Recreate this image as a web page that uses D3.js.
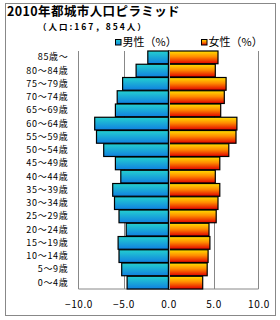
<!DOCTYPE html>
<html>
<head>
<meta charset="utf-8">
<script src="https://cdn.jsdelivr.net/npm/d3@7"></script>
<style>
  body { margin: 0; background: #fff; }
  svg { display: block; font-family: "Noto Sans CJK JP", sans-serif; }
</style>
</head>
<body>
<div id="chart"></div>
<script>
const AGE_LIST = ["85歳～", "80～84歳", "75～79歳", "70～74歳", "65～69歳", "60～64歳",
  "55～59歳", "50～54歳", "45～49歳", "40～44歳", "35～39歳", "30～34歳",
  "25～29歳", "20～24歳", "15～19歳", "10～14歳", "5～9歳", "0～4歳"];
const MALE = [2.3, 3.6, 5.1, 5.7, 5.9, 8.2, 8.0, 7.2, 5.9, 5.3, 6.2, 6.0, 5.5, 4.7, 5.6, 5.5, 5.2, 4.6];
const FEMALE = [5.5, 5.2, 6.4, 6.2, 5.8, 7.6, 7.5, 6.7, 5.7, 5.2, 5.7, 5.5, 5.3, 4.5, 4.6, 4.4, 4.3, 3.8];
const X_TICKS = [-10, -5, 0, 5, 10];

const W = 280, H = 320;
const plot = { left: 78.5, right: 258.5, top: 51, bottom: 289 };

const svg = d3.select("#chart").append("svg")
  .attr("width", W).attr("height", H);

// -------------------- GRADIENTS --------------------
const defs = svg.append("defs");
const gMale = defs.append("linearGradient").attr("id", "gMale")
  .attr("x1", 0).attr("y1", 0).attr("x2", 0).attr("y2", 1);
gMale.append("stop").attr("offset", "0%").attr("stop-color", "#24d0d0");
gMale.append("stop").attr("offset", "100%").attr("stop-color", "#1080e0");
const gFemale = defs.append("linearGradient").attr("id", "gFemale")
  .attr("x1", 0).attr("y1", 0).attr("x2", 0).attr("y2", 1);
gFemale.append("stop").attr("offset", "0%").attr("stop-color", "#ffe000");
gFemale.append("stop").attr("offset", "45%").attr("stop-color", "#ff8c00");
gFemale.append("stop").attr("offset", "100%").attr("stop-color", "#e00000");

// outer frame
svg.append("rect")
  .attr("x", 5.5).attr("y", 3.5).attr("width", 270).attr("height", 312)
  .attr("fill", "#fff").attr("stroke", "#888").attr("stroke-width", 1);

// -------------------- TITLE & LEGEND --------------------
svg.append("text").attr("x", 7).attr("y", 16)
  .style("font-size", "12.5px").style("font-weight", "bold").style("fill", "#000")
  .style("letter-spacing", "0.4px")
  .text("2010年都城市人口ピラミッド");
svg.append("text").attr("x", 38).attr("y", 30)
  .style("font-size", "8.5px").style("font-weight", "bold").style("fill", "#000")
  .style("letter-spacing", "2px")
  .text("（人口:167，854人）");

const legend = [
  { x: 115, fill: "url(#gMale)", label: "男性（%）" },
  { x: 201, fill: "url(#gFemale)", label: "女性（%）" }
];
legend.forEach(l => {
  svg.append("rect").attr("x", l.x + 0.5).attr("y", 39.5).attr("width", 5.5).attr("height", 5.5)
    .attr("fill", l.fill).attr("stroke", "#000").attr("stroke-width", 1);
  svg.append("text").attr("x", l.x + 7.5).attr("y", 46)
    .style("font-size", "11px").style("fill", "#000").text(l.label);
});

// -------------------- SCALES --------------------
const x = d3.scaleLinear().domain([-10, 10]).range([plot.left, plot.right]);
const y = d3.scaleBand().domain(AGE_LIST).range([plot.top, plot.bottom]).paddingInner(0.04);

// gridlines
svg.append("g").selectAll("line")
  .data(X_TICKS.filter(t => t !== 0 && Math.abs(t) !== 10))
  .join("line")
  .attr("x1", d => Math.round(x(d)) + 0.5).attr("x2", d => Math.round(x(d)) + 0.5)
  .attr("y1", plot.top).attr("y2", plot.bottom)
  .attr("stroke", "#888").attr("stroke-width", 1);

// plot border (left, right, bottom)
svg.append("path")
  .attr("d", `M${plot.left},${plot.top}V${plot.bottom}H${plot.right}V${plot.top}`)
  .attr("fill", "none").attr("stroke", "#888").attr("stroke-width", 1);

// -------------------- BARS --------------------
const rows = AGE_LIST.map((age, i) => ({ age, male: MALE[i], female: FEMALE[i] }));

svg.append("g").selectAll("rect")
  .data(rows).join("rect")
  .attr("x", d => x(-d.male))
  .attr("y", d => y(d.age))
  .attr("width", d => x(0) - x(-d.male))
  .attr("height", y.bandwidth())
  .attr("fill", "url(#gMale)")
  .attr("stroke", "#000").attr("stroke-width", 1.2);

svg.append("g").selectAll("rect")
  .data(rows).join("rect")
  .attr("x", x(0))
  .attr("y", d => y(d.age))
  .attr("width", d => x(d.female) - x(0))
  .attr("height", y.bandwidth())
  .attr("fill", "url(#gFemale)")
  .attr("stroke", "#000").attr("stroke-width", 1.2);

// zero line
svg.append("line")
  .attr("x1", Math.round(x(0)) + 0.5).attr("x2", Math.round(x(0)) + 0.5)
  .attr("y1", plot.top).attr("y2", plot.bottom)
  .attr("stroke", "#999").attr("stroke-width", 1);

// -------------------- AXES --------------------
const yAxis = svg.append("g")
  .attr("transform", `translate(${plot.left - 10}, 0)`)
  .call(d3.axisLeft(y).tickSize(0).tickPadding(0));
yAxis.select(".domain").remove();
yAxis.selectAll("text")
  .style("font-size", "9px").style("fill", "#000")
  .style("letter-spacing", "0.7px")
  .style("font-family", "'Noto Sans CJK JP', sans-serif");

const xAxis = svg.append("g")
  .attr("transform", `translate(0, ${plot.bottom + 12})`)
  .call(d3.axisBottom(x).tickValues(X_TICKS).tickSize(0).tickPadding(0)
    .tickFormat(d => (d < 0 ? "−" : "") + Math.abs(d).toFixed(1)));
xAxis.select(".domain").remove();
xAxis.selectAll("text")
  .attr("dy", "0.71em")
  .style("font-size", "10px").style("fill", "#000")
  .style("letter-spacing", "0.6px")
  .style("font-family", "'Noto Sans CJK JP', sans-serif");
</script>
</body>
</html>
